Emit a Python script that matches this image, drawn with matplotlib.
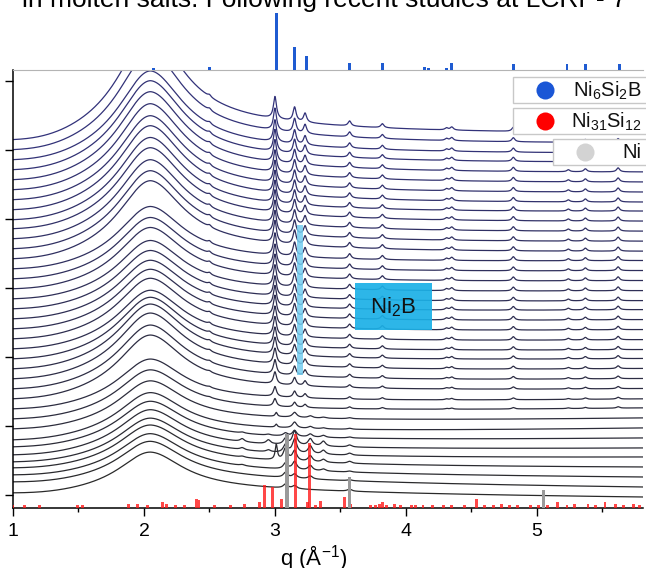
import numpy as np
import matplotlib
matplotlib.use("Agg")
import matplotlib.pyplot as plt
from matplotlib.patches import Rectangle
from matplotlib.colors import to_rgb

plt.rcParams['font.family'] = ['Liberation Sans', 'DejaVu Sans']
plt.rcParams['mathtext.default'] = 'regular'

W, H = 646, 568

# Ni6Si2B reference pattern (top panel), relative intensity
ni6si2b_q = [2.07, 2.50, 3.01, 3.15, 3.24, 3.57, 3.82, 4.14, 4.17, 4.31, 4.35, 4.82, 5.23, 5.37, 5.63]
ni6si2b_rel = [4, 5, 100, 40, 25, 12, 12, 6, 3, 3, 12, 11, 11, 11, 11]

# Ni31Si12 reference pattern (bottom)
ni31si12_q = [1.00, 1.09, 1.20, 1.49, 1.53, 1.88, 1.95, 2.03, 2.14, 2.17, 2.24, 2.31, 2.40, 2.42,
              2.54, 2.66, 2.77, 2.88, 2.92, 2.98, 3.05, 3.16, 3.25, 3.265, 3.31, 3.35, 3.53, 3.58,
              3.73, 3.77, 3.80, 3.82, 3.85, 3.91, 3.96, 4.04, 4.07, 4.13, 4.20, 4.29, 4.35, 4.45,
              4.54, 4.60, 4.67, 4.73, 4.79, 4.85, 4.95, 5.01, 5.08, 5.16, 5.23, 5.29, 5.39, 5.45,
              5.52, 5.60, 5.66, 5.74, 5.78]
ni31si12_int = [3, 3, 3, 3, 3, 4, 4, 3, 6, 4, 3, 3, 9, 8,
                3, 3, 4, 6, 23, 21, 9, 74, 6, 65, 3, 7, 11, 4,
                3, 3, 4, 6, 3, 4, 3, 3, 3, 3, 3, 3, 3, 3,
                9, 3, 3, 4, 3, 3, 3, 3, 3, 6, 3, 4, 4, 3,
                6, 4, 3, 4, 3]

# Ni reference pattern
ni_q = [3.09, 3.57, 5.05]
ni_int = [74, 31, 18]

# measured patterns, bottom to top: level at q=1, level at the high-q end,
# height of the amorphous hump, weight of the Ni6Si2B reflections
left_level = [2, 13, 20, 27, 33, 40, 48, 55, 66, 76, 86, 96, 106, 116, 126, 136, 146, 156, 166,
              176, 186, 196, 206, 216, 226, 236, 246, 256, 266, 275, 285, 295, 305, 315, 325,
              335, 345, 355]
right_level = [-3, 7, 17, 27, 37, 46, 56, 66, 76, 86, 95, 105, 115, 125, 135, 144, 154, 164, 174,
               184, 193, 203, 213, 223, 233, 242, 252, 262, 272, 282, 291, 301, 311, 321, 331,
               340, 350, 360]
hump_height = [42, 42, 42, 43, 43, 44, 44, 45, 46, 47, 48, 62, 62, 64, 63, 60, 57, 59, 58,
               57, 57, 57, 60, 60, 61, 77, 77, 78, 80, 81, 83, 83, 85, 87, 88, 88, 97, 106]
ni6si2b_weight = [0, 0, 0, 0, 0, 0, 0, 0, 0, 0.35, 0.45, 0.55, 0.65, 0.7, 0.75, 0.8, 0.85, 0.85,
                  0.9, 0.9, 0.9, 0.95, 0.95, 0.95, 1, 1, 1, 1, 1, 1, 1, 1, 1, 1, 1, 1, 1, 1]

# Ni6Si2B reflections seen in the upper patterns
cryst_q = [2.50, 3.00, 3.15, 3.23, 3.57, 3.82, 4.31, 4.35, 4.82, 5.24, 5.37, 5.62]
cryst_h = [2, 22, 14, 9, 5, 4, 2, 3, 4, 2, 3, 4]

# Ni31Si12 / Ni reflections in the lowest patterns (rows: bottom pattern first)
low_q = [2.75, 2.95, 3.01, 3.08, 3.15, 3.27, 3.37, 3.57]
low_h = [[0, 0, 0, 4, 3, 0, 0, 2],
         [0, 0, 0, 5, 4, 3, 0, 1],
         [1, 0, 0, 6, 8, 5, 2, 1],
         [1, 0, 15, 12, 10, 6, 3, 2],
         [2, 2, 0, 8, 14, 8, 4, 2],
         [3, 4, 0, 6, 14, 7, 5, 2],
         [1, 1, 0, 3, 6, 3, 2, 1],
         [0, 0, 3, 0, 6, 2, 1, 1],
         [0, 0, 4, 0, 5, 2, 1, 1]]

q_min, q_max = 1.0, 5.81


def hump(q):
    d = q - 2.05
    left = np.exp(-(d / 0.8) ** 4) / (1 + (d / 0.3) ** 2)
    right = 0.8 / (1 + (d / 0.3) ** 2) + 0.2 * np.exp(-d / 1.6)
    return np.where(d < 0, left, right)


def lor(q, q0, h, w):
    return h / (1 + ((q - q0) / w) ** 2)


fig = plt.figure(figsize=(W / 100, H / 100), dpi=100)
ax = fig.add_axes([13 / W, 1 - 508 / H, 630 / W, 438 / H])
ax_top = fig.add_axes([13 / W, 1 - 70 / H, 630 / W, 60 / H], sharex=ax)

q = np.linspace(q_min, q_max, 2400)
n = len(left_level)
c_bot = np.array(to_rgb('#2a2a2a'))
c_top = np.array(to_rgb('#32327a'))
for k in range(n):
    y = left_level[k] + (right_level[k] - left_level[k]) * (q - q_min) / (q_max - q_min)
    y = y + hump_height[k] * hump(q)
    for q0, h in zip(cryst_q, cryst_h):
        y = y + lor(q, q0, ni6si2b_weight[k] * h, 0.014)
    if k < len(low_h):
        for q0, h in zip(low_q, low_h[k]):
            w = 0.01 if q0 == 3.01 else 0.02
            y = y + lor(q, q0, h, w)
    t = k / (n - 1)
    ax.plot(q, y, color=c_bot * (1 - t) + c_top * t, lw=0.9, zorder=2)

ybot = -13
ax.bar(ni31si12_q, ni31si12_int, width=0.022, bottom=ybot, color='#ff1a1a', alpha=0.8,
       linewidth=0, zorder=5)
ax.bar(ni_q, ni_int, width=0.028, bottom=ybot, color='#9a9a9a', linewidth=0, zorder=5)

# Ni2B marker line and label
ax.add_patch(Rectangle((3.168, 120), 0.045, 150, facecolor='#74cdf0', alpha=0.85,
                       linewidth=0, zorder=6))
ax.add_patch(Rectangle((3.61, 165), 0.59, 47, facecolor='#1bb0e6', alpha=0.92,
                       linewidth=0, zorder=6))
ax.text(3.905, 188, 'Ni$_2$B', ha='center', va='center', fontsize=16, color='#111111', zorder=7)

ax.set_xlim(q_min, q_max)
ax.set_ylim(ybot, 425)
ax.set_xticks([1, 2, 3, 4, 5])
ax.set_xticks(np.arange(1.5, 5.8, 1.0), minor=True)
ax.set_yticks(np.arange(0, 420, 69))
ax.set_yticklabels([])
ax.tick_params(axis='x', which='major', length=6, width=1, labelsize=14, pad=5)
ax.tick_params(axis='x', which='minor', length=3, width=1)
ax.tick_params(axis='y', which='major', length=6, width=1, direction='out')
ax.spines['right'].set_visible(False)
ax.spines['top'].set_color('#b4b4b4')
ax.spines['left'].set_linewidth(1.1)
ax.spines['bottom'].set_linewidth(1.1)

ax_top.bar(ni6si2b_q, ni6si2b_rel, width=0.022, color='#1f5bd1', linewidth=0)
ax_top.set_ylim(0, 105)
ax_top.axis('off')

fig.text(314 / W, 1 - 566 / H, 'q (Å$^{-1}$)', ha='center', va='baseline', fontsize=16)
fig.text(22 / W, 1 - 7 / H, 'in molten salts. Following recent studies at LCRP- 7',
         ha='left', va='baseline', fontsize=19)

# legend boxes
ov = fig.add_axes([0, 0, 1, 1])
ov.set_xlim(0, W)
ov.set_ylim(H, 0)
ov.axis('off')
entries = [(513, 77, '#1a56d6', 'Ni$_6$Si$_2$B'),
           (513, 108, '#ff0000', 'Ni$_{31}$Si$_{12}$'),
           (553, 139, '#d3d3d3', 'Ni')]
for x0, y0, col, lab in entries:
    ov.add_patch(Rectangle((x0, y0), W - x0 + 5, 26, facecolor='white', edgecolor='#c8c8c8',
                           linewidth=1))
    ov.plot(x0 + 32, y0 + 13, 'o', ms=13, color=col, mec='none')
    ov.text(W - 5, y0 + 14, lab, ha='right', va='center', fontsize=14.5, color='#111111')

fig.savefig('out.png', dpi=100)
